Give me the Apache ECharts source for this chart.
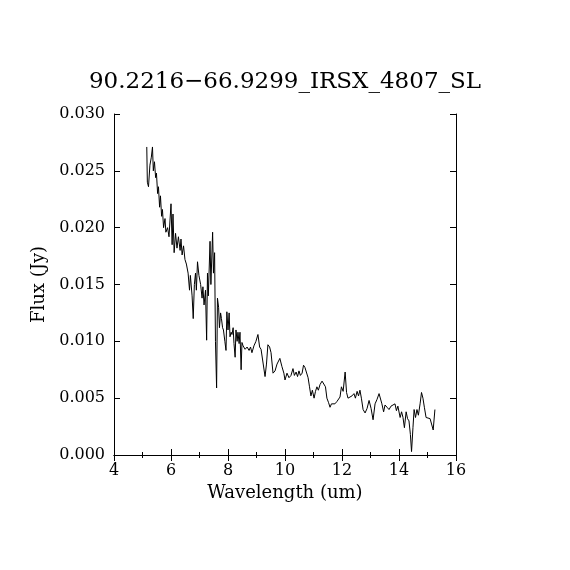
<!DOCTYPE html>
<html>
<head>
<meta charset="utf-8">
<script src="https://cdn.jsdelivr.net/npm/echarts@6/dist/echarts.min.js"></script>
<style>
html,body{margin:0;padding:0;background:#fff;}
#chart{width:570px;height:570px;}
</style>
</head>
<body>
<div id="chart"></div>
<script>
var titleText = '90.2216\u221266.9299_IRSX_4807_SL';
var xName = 'Wavelength (um)';
var yName = 'Flux (Jy)';

var wavelength = [
5.15,5.17,5.21,5.26,5.31,5.35,5.38,5.42,5.46,5.49,5.53,5.56,5.60,5.63,5.67,5.70,5.74,5.79,5.82,5.88,
5.93,6.00,6.04,6.07,6.11,6.16,6.21,6.26,6.32,6.35,6.39,6.44,6.49,6.54,6.60,6.65,6.68,6.74,6.78,6.82,
6.86,6.89,6.93,6.98,7.04,7.09,7.12,7.16,7.21,7.25,7.28,7.31,7.37,7.40,7.46,7.49,7.53,7.56,7.60,7.63,
7.67,7.70,7.74,7.77,7.81,7.84,7.89,7.93,7.96,8.00,8.04,8.07,8.11,8.14,8.18,8.21,8.25,8.28,8.32,8.35,
8.39,8.42,8.46,8.49,8.53,8.60,8.67,8.74,8.79,8.84,8.91,8.98,9.05,9.11,9.16,9.23,9.30,9.35,9.40,9.46,
9.51,9.58,9.65,9.72,9.82,9.89,9.96,10.00,10.07,10.14,10.21,10.28,10.33,10.39,10.44,10.49,10.54,10.60,10.65,10.70,
10.75,10.81,10.86,10.91,10.96,11.02,11.07,11.12,11.17,11.23,11.30,11.37,11.42,11.47,11.53,11.58,11.63,11.68,11.75,11.82,
11.93,11.98,12.04,12.11,12.16,12.21,12.28,12.35,12.42,12.47,12.53,12.58,12.63,12.68,12.74,12.81,12.88,12.95,13.02,13.09,
13.16,13.23,13.30,13.35,13.40,13.46,13.51,13.58,13.65,13.72,13.79,13.86,13.91,13.96,14.04,14.09,14.14,14.19,14.25,14.30,
14.35,14.40,14.44,14.49,14.53,14.58,14.63,14.68,14.74,14.79,14.84,14.89,14.95,15.02,15.09,15.16,15.20,15.26
];
var flux = [
0.0271,0.0240,0.0236,0.0255,0.0262,0.0271,0.0250,0.0258,0.0244,0.0248,0.0230,0.0236,0.0218,0.0228,0.0210,0.0216,0.0200,0.0208,0.0196,0.0200,
0.0192,0.0221,0.0185,0.0212,0.0178,0.0195,0.0182,0.0192,0.0180,0.0190,0.0176,0.0184,0.0172,0.0168,0.0160,0.0145,0.0158,0.0140,0.0120,0.0150,
0.0160,0.0145,0.0170,0.0158,0.0150,0.0138,0.0148,0.0132,0.0145,0.0101,0.0160,0.0140,0.0188,0.0150,0.0196,0.0160,0.0178,0.0100,0.0059,0.0138,
0.0130,0.0112,0.0125,0.0120,0.0112,0.0110,0.0100,0.0092,0.0126,0.0110,0.0125,0.0104,0.0108,0.0106,0.0112,0.0098,0.0086,0.0110,0.0100,0.0108,
0.0098,0.0108,0.0075,0.0099,0.0096,0.0093,0.0095,0.0092,0.0095,0.0090,0.0096,0.0100,0.0106,0.0095,0.0093,0.0094,0.0069,0.0080,0.0097,0.0095,
0.0090,0.0072,0.0074,0.0080,0.0085,0.0078,0.0072,0.0066,0.0072,0.0068,0.0070,0.0076,0.0070,0.0073,0.0069,0.0074,0.0070,0.0072,0.0079,0.0077,
0.0076,0.0068,0.0060,0.0052,0.0057,0.0050,0.0056,0.0060,0.0057,0.0062,0.0065,0.0066,0.0060,0.0050,0.0046,0.0042,0.0045,0.0046,0.0045,0.0047,
0.0051,0.0060,0.0056,0.0073,0.0055,0.0050,0.0050,0.0052,0.0054,0.0050,0.0056,0.0052,0.0057,0.0050,0.0040,0.0037,0.0041,0.0048,0.0041,0.0031,
0.0045,0.0049,0.0054,0.0055,0.0045,0.0038,0.0044,0.0042,0.0040,0.0043,0.0044,0.0045,0.0039,0.0043,0.0033,0.0038,0.0033,0.0024,0.0038,0.0032,
0.0030,0.0018,0.0003,0.0024,0.0040,0.0033,0.0040,0.0035,0.0045,0.0055,0.0050,0.0042,0.0033,0.0033,0.0032,0.0031,0.0022,0.0040
];
var yTickLabels = ['0.000','0.005','0.010','0.015','0.020','0.025','0.030'];

var seriesData = wavelength.map(function(w,i){return [w, flux[i]];});
var FONT = 'DejaVu Serif';
var chart = echarts.init(document.getElementById('chart'), null, {renderer:'canvas'});

var axisLineStyle = {show:true, lineStyle:{color:'#000', width:1}};
chart.setOption({
  backgroundColor:'#fff',
  animation:false,
  title:{
    text:titleText, left:'center', top:66,
    textStyle:{fontFamily:FONT, fontSize:23, fontWeight:'normal', color:'#000'}
  },
  grid:{left:114, right:114, top:114, bottom:115},
  xAxis:[{
    type:'value', min:4, max:16, interval:2, position:'bottom',
    name:xName, nameLocation:'middle', nameGap:29,
    nameTextStyle:{fontFamily:FONT, fontSize:18, color:'#000'},
    axisLine:axisLineStyle,
    axisTick:{show:true, inside:true, length:6, lineStyle:{color:'#000'}},
    minorTick:{show:true, splitNumber:2, length:3, lineStyle:{color:'#000'}},
    axisLabel:{fontFamily:FONT, fontSize:16, color:'#000', margin:8},
    splitLine:{show:false}
  },{
    type:'value', min:4, max:16, interval:2, position:'top',
    axisLine:axisLineStyle,
    axisTick:{show:true, inside:true, length:6, lineStyle:{color:'#000'}},
    minorTick:{show:true, splitNumber:2, length:3, lineStyle:{color:'#000'}},
    axisLabel:{show:false}, splitLine:{show:false}
  }],
  yAxis:[{
    type:'value', min:0, max:0.03, interval:0.005, position:'left',
    name:yName, nameLocation:'middle', nameGap:65, nameRotate:90,
    nameTextStyle:{fontFamily:FONT, fontSize:18, color:'#000'},
    axisLine:axisLineStyle,
    axisTick:{show:true, inside:true, length:6, lineStyle:{color:'#000'}},
    axisLabel:{fontFamily:FONT, fontSize:16, color:'#000', margin:9,
      formatter:function(v){ return yTickLabels[Math.round(v/0.005)]; }},
    splitLine:{show:false}
  },{
    type:'value', min:0, max:0.03, interval:0.005, position:'right',
    axisLine:axisLineStyle,
    axisTick:{show:true, inside:true, length:6, lineStyle:{color:'#000'}},
    axisLabel:{show:false}, splitLine:{show:false}
  }],
  series:[{
    type:'line', xAxisIndex:0, yAxisIndex:0, data:seriesData,
    showSymbol:false, symbol:'none',
    lineStyle:{color:'#000', width:1}
  }]
});
</script>
</body>
</html>
